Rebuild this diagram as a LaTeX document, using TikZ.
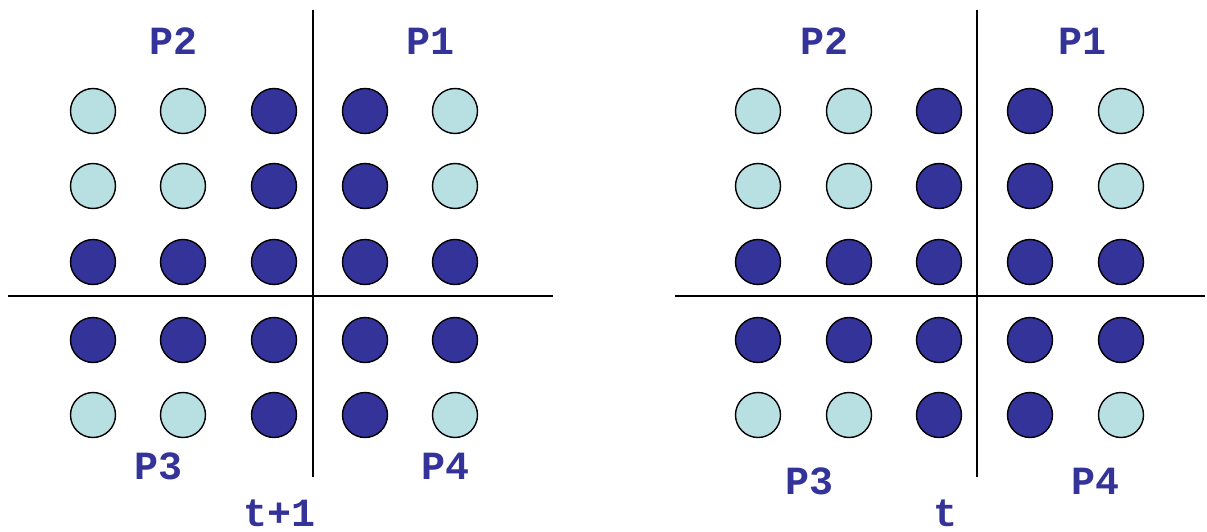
\documentclass[tikz,border=0pt]{standalone}
\usepackage{fontspec}
\setmonofont{Liberation Mono}
\definecolor{dk}{HTML}{333399}
\definecolor{lt}{HTML}{B8E0E2}
\begin{document}
\begin{tikzpicture}[x=1pt,y=-1pt,
  dot/.style={circle,draw=black,line width=1.4pt,minimum size=45pt,inner sep=0pt},
  dkdot/.style={dot,fill=dk},
  ltdot/.style={dot,fill=lt},
  lbl/.style={font=\ttfamily\bfseries\fontsize{40}{40}\selectfont,text=dk,anchor=base,inner sep=0pt},
  axis/.style={line width=1.3pt,draw=black}]
\useasboundingbox (0,0) rectangle (1207,532);
% left panel
\foreach \c/\x in {1/93,2/183,3/274,4/365,5/455}{
  \foreach \r/\y in {1/111,2/186,3/262,4/340,5/415}{
    \pgfmathtruncatemacro{\isl}{(\r==1 || \r==2 || \r==5) && (\c==1 || \c==2 || \c==5)}
    \ifnum\isl=1
      \node[ltdot] (a\c\r) at (\x,\y) {};
    \else
      \node[dkdot] (a\c\r) at (\x,\y) {};
    \fi
  }
}
\coordinate (av1) at (313,10); \coordinate (av2) at (313,477);
\coordinate (ah1) at (8,296); \coordinate (ah2) at (553,296);
\draw[axis] (av1) -- (av2);
\draw[axis] (ah1) -- (ah2);
\node[lbl] (aP2) at (174,55) {P2};
\node[lbl] (aP1) at (430,55) {P1};
\node[lbl] (aP3) at (159,479) {P3};
\node[lbl] (aP4) at (445,479) {P4};
\node[lbl] (at) at (280,526) {t+1};
% right panel
\foreach \c/\x in {1/758,2/849,3/939,4/1030,5/1121}{
  \foreach \r/\y in {1/111,2/186,3/262,4/340,5/415}{
    \pgfmathtruncatemacro{\isl}{(\r==1 || \r==2 || \r==5) && (\c==1 || \c==2 || \c==5)}
    \ifnum\isl=1
      \node[ltdot] (b\c\r) at (\x,\y) {};
    \else
      \node[dkdot] (b\c\r) at (\x,\y) {};
    \fi
  }
}
\coordinate (bv1) at (977,10); \coordinate (bv2) at (977,477);
\coordinate (bh1) at (675,296); \coordinate (bh2) at (1205,296);
\draw[axis] (bv1) -- (bv2);
\draw[axis] (bh1) -- (bh2);
\node[lbl] (bP2) at (824,55) {P2};
\node[lbl] (bP1) at (1082,55) {P1};
\node[lbl] (bP3) at (809,494) {P3};
\node[lbl] (bP4) at (1095,494) {P4};
\node[lbl] (bt) at (945,526) {t};
\end{tikzpicture}
\end{document}
